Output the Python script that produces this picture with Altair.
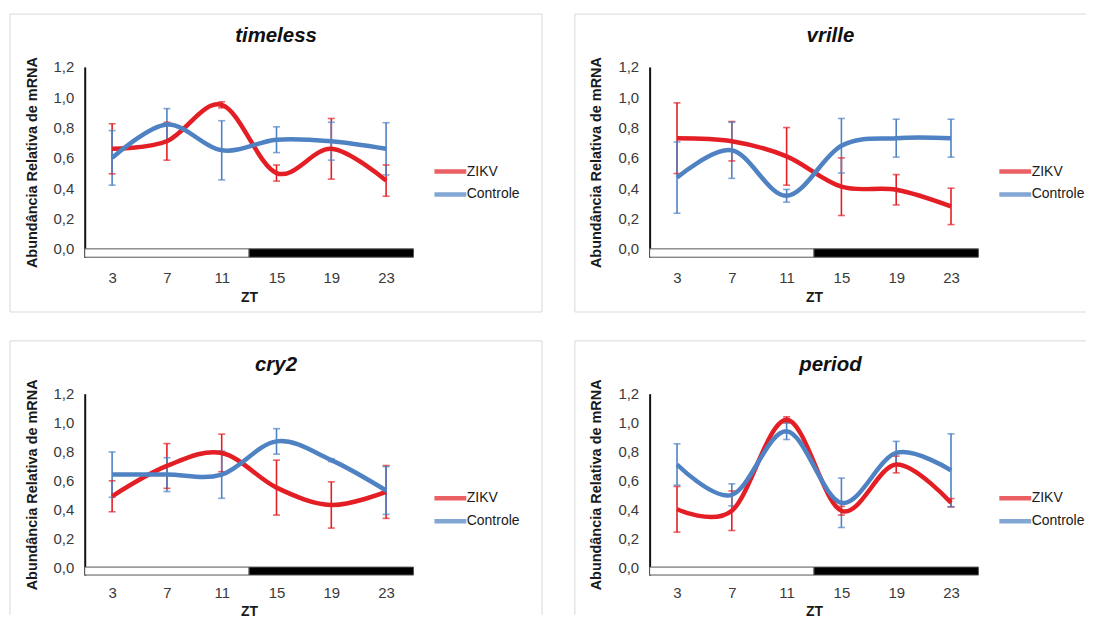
import altair as alt
import pandas as pd

FONT = "Liberation Sans"

# ---- data -------------------------------------------------------------
ZT = [3, 7, 11, 15, 19, 23]
SERIES = ["ZIKV", "Controle"]
SERIES_COLORS = ["#E31E24", "#4F82C3"]
Y_TICKS = [0.0, 0.2, 0.4, 0.6, 0.8, 1.0, 1.2]

# light / dark phase bar (ZT)
PHASE_START = [1, 13]
PHASE_END = [13, 25]
PHASE_FILL = ["#FFFFFF", "#000000"]
BAR_BOTTOM = -0.055

timeless_zikv = [0.66, 0.71, 0.95, 0.50, 0.66, 0.45]
timeless_zikv_err = [0.165, 0.125, 0.02, 0.053, 0.20, 0.103]
timeless_ctrl = [0.60, 0.82, 0.65, 0.72, 0.71, 0.66]
timeless_ctrl_err = [0.18, 0.105, 0.195, 0.085, 0.125, 0.172]

vrille_zikv = [0.73, 0.71, 0.61, 0.41, 0.39, 0.28]
vrille_zikv_err = [0.233, 0.13, 0.19, 0.19, 0.10, 0.12]
vrille_ctrl = [0.47, 0.65, 0.35, 0.68, 0.73, 0.73]
vrille_ctrl_err = [0.235, 0.185, 0.042, 0.18, 0.125, 0.125]

cry2_zikv = [0.49, 0.70, 0.79, 0.55, 0.43, 0.52]
cry2_zikv_err = [0.107, 0.155, 0.13, 0.19, 0.16, 0.183]
cry2_ctrl = [0.64, 0.64, 0.64, 0.87, 0.74, 0.53]
cry2_ctrl_err = [0.157, 0.117, 0.164, 0.088, 0.01, 0.165]

period_zikv = [0.40, 0.39, 1.02, 0.39, 0.71, 0.445]
period_zikv_err = [0.158, 0.137, 0.02, 0.03, 0.058, 0.029]
period_ctrl = [0.71, 0.50, 0.94, 0.445, 0.79, 0.67]
period_ctrl_err = [0.143, 0.076, 0.057, 0.171, 0.08, 0.252]

Y_TITLE = "Abundância  Relativa de mRNA"
X_TITLE = "ZT"

# ---- styling ----------------------------------------------------------
PLOT_W = 330
BOX_COLOR = "#D9D9D9"
LEGEND_LINE = "M-3.2,0L3.2,0"   # long flat stroke used as legend symbol


def frame_rules(right_col, bottom_row):
    """Light grey panel frame (pixel offsets from the plot origin)."""
    left, top = -75, -53
    right = 438 if right_col else 459
    bottom = 222 if bottom_row else 246
    one = pd.DataFrame({"k": [0]})
    sides = [dict(x=left, x2=right, y=top, y2=top), dict(x=left, x2=left, y=top, y2=bottom)]
    if not right_col:
        sides.append(dict(x=right, x2=right, y=top, y2=bottom))
    if not bottom_row:
        sides.append(dict(x=left, x2=right, y=bottom, y2=bottom))
    layers = []
    for s in sides:
        layers.append(
            alt.Chart(one).mark_rule(stroke=BOX_COLOR, strokeWidth=1).encode(
                x=alt.value(s["x"]), x2=alt.value(s["x2"]),
                y=alt.value(s["y"]), y2=alt.value(s["y2"]))
        )
    return layers


def panel(gene, zikv, zikv_err, ctrl, ctrl_err, plot_h, right_col, bottom_row):
    rows = []
    for serie, means, errs in ((SERIES[0], zikv, zikv_err), (SERIES[1], ctrl, ctrl_err)):
        for zt, m, e in zip(ZT, means, errs):
            rows.append({"ZT": zt, "valor": m, "lo": m - e, "hi": m + e, "serie": serie})
    df = pd.DataFrame(rows)
    phase = pd.DataFrame({
        "ini": PHASE_START, "fim": PHASE_END,
        "topo": [0.0] * len(PHASE_START), "base": [BAR_BOTTOM] * len(PHASE_START),
        "cor": PHASE_FILL,
    })

    x_scale = alt.Scale(domain=[1, 25], nice=False, zero=False)
    y_scale = alt.Scale(domain=[BAR_BOTTOM, 1.2], nice=False, zero=False)
    x_axis = alt.Axis(values=ZT, format="d", ticks=False, domain=False, grid=False,
                      labelFontSize=15, labelColor="#3a3a3a",
                      labelPadding=10.5 if bottom_row else 13.5,
                      labelFlush=False, title=X_TITLE, titleFontSize=14,
                      titleFontWeight="bold", titleColor="#1a1a1a",
                      titlePadding=4 if bottom_row else 5)
    y_axis = alt.Axis(values=Y_TICKS, labelExpr="replace(format(datum.value, '.1f'), '.', ',')",
                      ticks=False, grid=False, domainColor="#111111", domainWidth=2,
                      labelFontSize=15, labelColor="#3a3a3a", labelPadding=11,
                      labelFlush=False, title=Y_TITLE, titleFontSize=14.5,
                      titleFontWeight="bold", titleColor="#1a1a1a", titlePadding=14)
    color = alt.Color("serie:N", scale=alt.Scale(domain=SERIES, range=SERIES_COLORS),
                      sort=SERIES,
                      legend=alt.Legend(orient="none", legendX=359.5, legendY=97.5, title=None,
                                        symbolType=LEGEND_LINE, symbolSize=100,
                                        symbolStrokeWidth=4.5, symbolFillColor="transparent",
                                        labelFontSize=14, labelFont=FONT,
                                        labelColor="#1a1a1a", labelOffset=9, rowPadding=4))

    bar = alt.Chart(phase).mark_rect(stroke="#555555", strokeWidth=1).encode(
        x=alt.X("ini:Q", scale=x_scale, axis=x_axis),
        x2="fim:Q",
        y=alt.Y("topo:Q", scale=y_scale, axis=y_axis),
        y2="base:Q",
        fill=alt.Fill("cor:N", scale=None),
    )

    base = alt.Chart(df).encode(
        x=alt.X("ZT:Q", scale=x_scale, axis=x_axis),
        color=color,
    )
    err = base.mark_rule(strokeWidth=1.6).encode(
        y=alt.Y("lo:Q", scale=y_scale, axis=y_axis), y2="hi:Q"
    )
    caps = base.transform_fold(["lo", "hi"], as_=["k", "cap"]).mark_tick(
        orient="horizontal", size=7, thickness=1.6
    ).encode(y=alt.Y("cap:Q", scale=y_scale, axis=y_axis))
    line = base.mark_line(interpolate="cardinal", strokeWidth=4.5).encode(
        y=alt.Y("valor:Q", scale=y_scale, axis=y_axis),
        order=alt.Order("ZT:Q"),
    )

    layers = frame_rules(right_col, bottom_row) + [bar, err, caps, line]
    return alt.layer(*layers).properties(
        width=PLOT_W, height=plot_h,
        title=alt.TitleParams(text=gene, font=FONT, fontSize=20.5, fontStyle="italic",
                              fontWeight="bold", color="#111111", anchor="middle",
                              frame="bounds", offset=-35 if bottom_row else -33),
    )


p1 = panel("timeless", timeless_zikv, timeless_zikv_err, timeless_ctrl, timeless_ctrl_err, 191, False, False)
p2 = panel("vrille", vrille_zikv, vrille_zikv_err, vrille_ctrl, vrille_ctrl_err, 191, True, False)
p3 = panel("cry2", cry2_zikv, cry2_zikv_err, cry2_ctrl, cry2_ctrl_err, 182, False, True)
p4 = panel("period", period_zikv, period_zikv_err, period_ctrl, period_ctrl_err, 182, True, True)

chart = (
    alt.concat(p1, p2, p3, p4, columns=2, spacing={"row": 27, "column": 31})
    .resolve_scale(color="independent")
    .resolve_legend(color="independent")
    .properties(padding={"left": 1, "top": 4, "right": 0, "bottom": 0})
    .configure(font=FONT)
    .configure_view(stroke=None)
    .configure_axis(labelFont=FONT, titleFont=FONT)
)

chart.save("out.html", embed_options={"renderer": "svg", "actions": False})
